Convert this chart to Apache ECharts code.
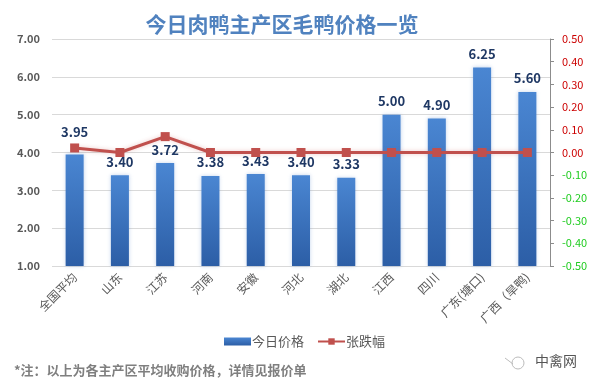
<!DOCTYPE html>
<html><head><meta charset="utf-8">
<script src="https://cdn.jsdelivr.net/npm/echarts@6/dist/echarts.min.js"></script>
<style>html,body{margin:0;padding:0;background:#fff}#c{width:594px;height:389px}</style>
</head><body><div id="c"></div>
<script>
const categories = ['全国平均','山东','江苏','河南','安徽','河北','湖北','江西','四川','广东(塘口)','广西（旱鸭)'];
const prices = [3.95,3.40,3.72,3.38,3.43,3.40,3.33,5.00,4.90,6.25,5.60];
const changes = [0.02,0.00,0.07,0.00,0.00,0.00,0.00,0.00,0.00,0.00,0.00];
const leftTicks = [1,2,3,4,5,6,7];
const rightTicks = [-0.5,-0.4,-0.3,-0.2,-0.1,0,0.1,0.2,0.3,0.4,0.5];

const chart = echarts.init(document.getElementById('c'));
const font = '"Microsoft YaHei","Noto Sans CJK SC",sans-serif';
chart.setOption({
  animation:false,
  textStyle:{fontFamily:font},
  title:{text:'今日肉鸭主产区毛鸭价格一览',left:277,top:9,textAlign:'center',
    textStyle:{fontSize:21,fontWeight:'bold',color:'#5082bf',fontFamily:font}},
  grid:{left:52,right:44,top:39,bottom:123},
  legend:{top:330,left:219,itemGap:13,itemWidth:27,itemHeight:8,
    textStyle:{fontSize:13,color:'#595959',fontFamily:font,padding:[0,0,0,-4]},
    data:[{name:'今日价格',icon:'rect'},{name:'张跌幅'}]},
  graphic:[
    {type:'text',left:14,top:364,style:{text:'*注：以上为各主产区平均收购价格，详情见报价单',fill:'#7f7f7f',font:'bold 13px '+font}},
    {type:'text',left:535,top:354,style:{text:'中禽网',fill:'#555',font:'14px '+font}},
    {type:'circle',shape:{cx:518,cy:363,r:6},style:{fill:'none',stroke:'#bbb',lineWidth:1}},
    {type:'line',shape:{x1:505,y1:358,x2:513,y2:364},style:{stroke:'#bbb',lineWidth:1}}
  ],
  xAxis:{type:'category',data:categories,
    axisLine:{lineStyle:{color:'#d9d9d9'}},axisTick:{show:false},
    axisLabel:{interval:0,rotate:45,fontSize:12,color:'#595959',margin:9,fontFamily:font}},
  yAxis:[
    {type:'value',min:1,max:7,interval:1,
      axisLine:{show:false},axisTick:{show:false},
      splitLine:{lineStyle:{color:'#d9d9d9'}},
      axisLabel:{formatter:v=>v.toFixed(2),fontSize:11,fontWeight:'bold',color:'#595959',margin:12}},
    {type:'value',min:-0.5,max:0.5,interval:0.1,position:'right',
      axisLine:{show:true,lineStyle:{color:'#8c8c8c'}},
      axisTick:{show:true,length:4,lineStyle:{color:'#8c8c8c'}},
      splitLine:{show:false},
      axisLabel:{formatter:v=>v.toFixed(2),fontSize:11,margin:12,
        color:v=>v<0?'#22cc22':'#cc0000'}}
  ],
  series:[
    {name:'今日价格',type:'bar',barWidth:18,
      data:prices.map((v,i)=>i===0?{value:v,label:{distance:16}}:v),
      itemStyle:{color:new echarts.graphic.LinearGradient(0,0,0,1,[{offset:0,color:'#4a86d2'},{offset:1,color:'#2c5ea6'}]),
        shadowColor:'rgba(80,130,200,0.35)',shadowBlur:4},
      label:{show:true,position:'top',distance:7,formatter:p=>p.value.toFixed(2),
        fontSize:13,fontWeight:'bold',color:'#1f3864'}},
    {name:'张跌幅',type:'line',yAxisIndex:1,data:changes,
      symbol:'rect',symbolSize:9,
      lineStyle:{color:'#c0504d',width:3,shadowColor:'rgba(192,80,77,0.3)',shadowBlur:4},
      itemStyle:{color:'#c0504d'}}
  ]
});
</script></body></html>
